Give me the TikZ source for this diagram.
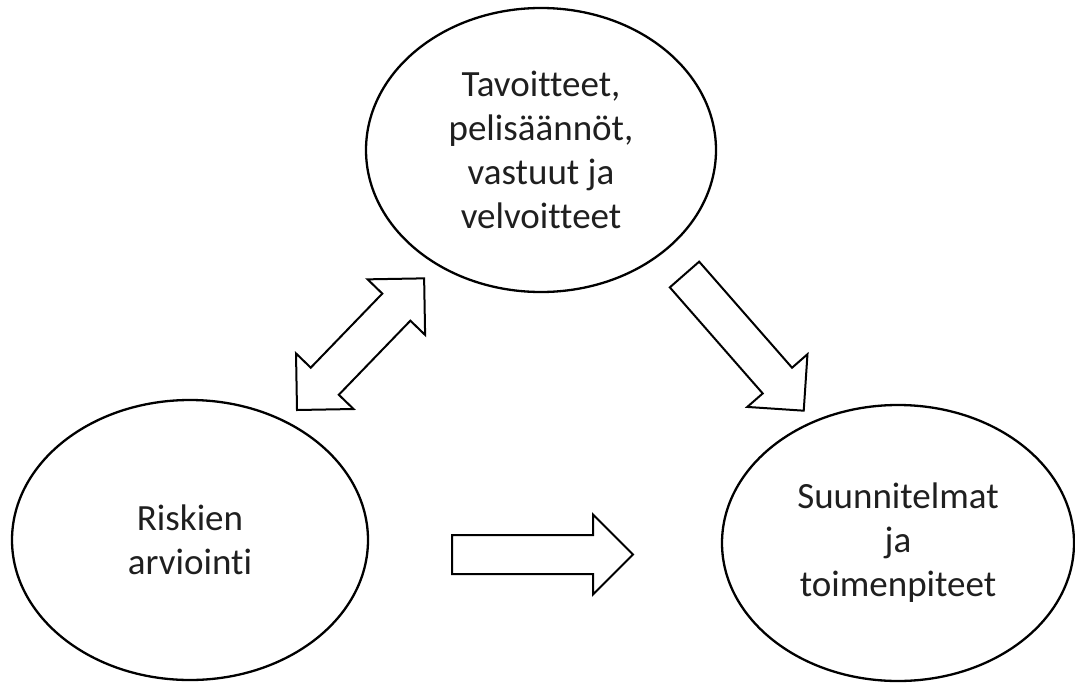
\documentclass[tikz,border=0pt]{standalone}
\usepackage{fontspec}
\setmainfont{Carlito}[Ligatures=NoCommon]
\usetikzlibrary{shapes.geometric}
\tikzset{
  bubble/.style={ellipse, draw=black, line width=2.3pt, inner sep=0pt, align=center,
    font=\fontsize{37pt}{44pt}\selectfont, text=black!88},
  arrowline/.style={draw=black, line width=2pt, fill=white, line join=miter},
  blockarrow/.pic={
    \path[arrowline] (0,-19.5) -- (141,-19.5) -- (141,-40) -- (181,0) -- (141,40) -- (141,19.5) -- (0,19.5) -- cycle;
  },
  twoheadarrow/.pic={
    \path[arrowline] (0,0) -- (40,40) -- (40,19.5) -- (143,19.5) -- (143,40) -- (183,0)
      -- (143,-40) -- (143,-19.5) -- (40,-19.5) -- (40,-40) -- cycle;
  }
}
\begin{document}
\begin{tikzpicture}[x=1pt, y=-1pt]
\useasboundingbox (0,0) rectangle (1075,682);
\node[bubble, minimum width=350pt, minimum height=284pt] (goals) at (541,150)
  {Tavoitteet,\\pelisäännöt,\\vastuut ja\\velvoitteet};
\node[bubble, minimum width=356pt, minimum height=280pt] (risk) at (190,540)
  {Riskien\\arviointi};
\node[bubble, minimum width=352pt, minimum height=276pt] (plans) at (898,543)
  {Suunnitelmat\\ja\\toimenpiteet};
\pic[rotate=46] at (297,410) {twoheadarrow};
\pic[rotate=-48.8] at (684.5,274.5) {blockarrow};
\pic at (452,554.5) {blockarrow};
\end{tikzpicture}
\end{document}
